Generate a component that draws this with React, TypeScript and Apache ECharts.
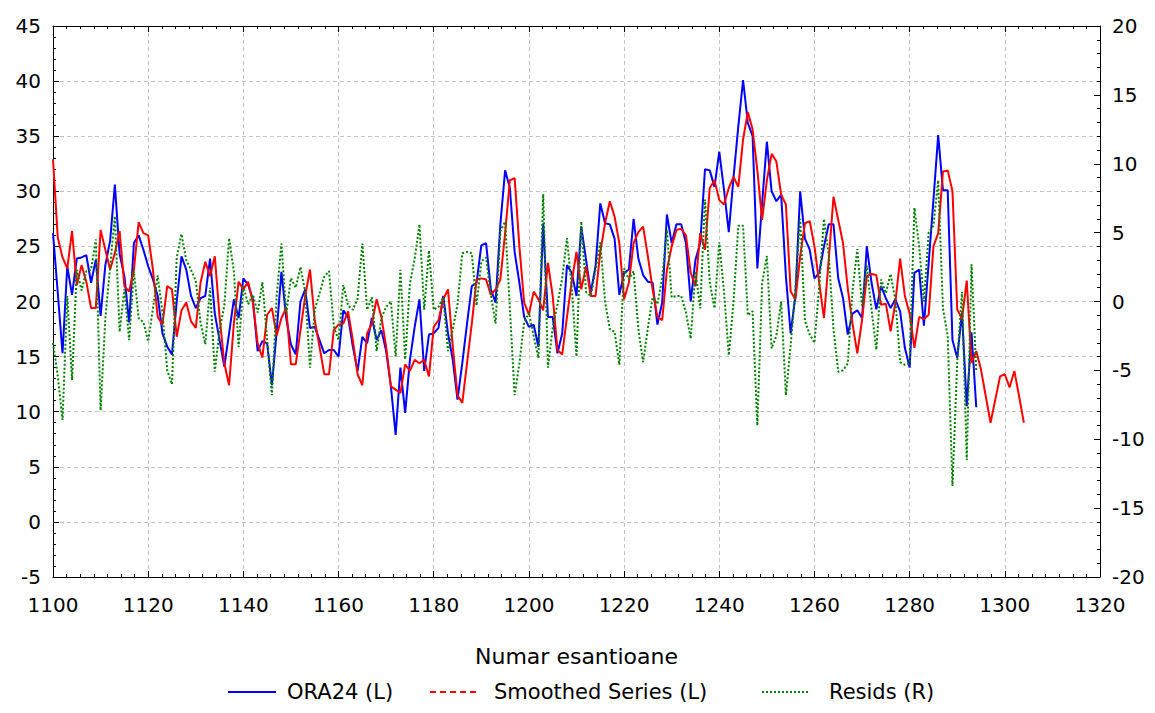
import React, { useEffect, useRef } from "react";
import * as echarts from "echarts";

const X_START = 1100;

const ora24 = [
  26.2, 20.8, 15.3, 23.2, 20.6, 23.9, 24.0, 24.2, 21.7, 23.8,
  18.7, 23.3, 25.5, 30.6, 24.3, 22.3, 18.1, 25.3, 26.0, 24.7,
  23.2, 22.0, 20.5, 17.1, 15.9, 15.2, 20.0, 24.1, 22.9, 20.5,
  19.4, 20.3, 20.5, 23.9, 18.9, 16.5, 14.1, 17.1, 20.2, 18.5,
  22.1, 21.5, 20.2, 15.5, 16.4, 16.2, 12.4, 17.3, 22.7, 18.5,
  16.1, 15.2, 20.0, 21.1, 17.6, 17.7, 16.5, 15.3, 15.6, 15.6,
  15.0, 19.2, 18.6, 15.9, 13.7, 16.8, 16.2, 18.5, 16.5, 17.4,
  15.5, 12.3, 7.9, 14.0, 9.9, 14.7, 17.7, 20.2, 13.7, 17.0,
  17.1, 17.6, 20.5, 17.1, 14.7, 11.1, 14.4, 18.0, 21.4, 21.7,
  25.1, 25.3, 21.1, 19.9, 27.0, 31.9, 30.3, 24.5, 21.7, 18.6,
  17.7, 17.9, 15.9, 27.1, 18.6, 18.6, 15.3, 17.1, 23.3, 22.6,
  20.5, 26.8, 23.8, 20.8, 23.2, 28.9, 27.1, 27.0, 25.7, 20.6,
  22.6, 22.9, 27.5, 23.9, 22.4, 21.8, 21.7, 17.9, 19.9, 27.9,
  25.3, 27.0, 27.0, 25.3, 20.0, 23.8, 25.3, 32.0, 31.9, 30.4,
  33.6, 30.1, 26.3, 31.3, 35.9, 40.1, 36.2, 35.0, 23.0, 28.9,
  34.5, 30.0, 29.1, 29.7, 22.3, 17.1, 20.5, 30.0, 25.7, 24.7,
  22.1, 22.6, 25.0, 27.0, 27.0, 22.1, 20.3, 17.0, 18.9, 19.2,
  18.5, 25.0, 21.7, 19.3, 21.4, 20.3, 19.4, 20.2, 19.1, 15.8,
  14.0, 22.6, 22.9, 17.8, 23.5, 29.2, 35.1, 30.1, 30.1, 16.5,
  14.9, 19.0, 10.5, 17.2, 10.4,
];

const smoothed = [
  32.9, 25.8, 24.0, 23.0, 26.4, 21.5, 23.3, 21.8, 19.4, 19.4,
  26.5, 24.7, 22.9, 24.4, 26.4, 21.4, 20.9, 22.9, 27.2, 26.2,
  26.0, 22.9, 18.6, 17.9, 21.4, 21.1, 16.8, 19.2, 19.9, 18.2,
  17.6, 21.7, 23.6, 22.3, 24.1, 18.6, 14.4, 12.4, 18.0, 21.8,
  21.1, 21.8, 19.9, 16.2, 14.9, 18.8, 19.4, 16.9, 18.5, 19.4,
  14.3, 14.3, 17.4, 20.5, 22.9, 18.3, 15.9, 13.4, 13.4, 17.4,
  17.9, 18.0, 19.1, 16.5, 13.4, 12.4, 17.1, 18.0, 20.2, 18.6,
  15.9, 12.3, 12.0, 11.7, 14.3, 13.7, 14.7, 14.4, 14.7, 13.2,
  17.7, 18.3, 20.2, 21.1, 15.9, 11.5, 10.8, 14.4, 18.0, 22.0,
  22.1, 22.0, 20.6, 21.1, 22.0, 26.2, 31.0, 31.2, 25.0, 19.9,
  18.8, 20.9, 20.2, 19.2, 23.5, 20.5, 15.6, 15.2, 18.6, 21.8,
  24.5, 21.1, 23.2, 20.5, 20.5, 24.5, 27.1, 29.1, 27.7, 25.3,
  20.2, 21.7, 25.3, 26.3, 26.8, 24.1, 21.1, 18.6, 18.3, 22.9,
  25.0, 26.5, 26.6, 26.0, 22.6, 21.4, 26.2, 24.7, 30.3, 31.0,
  29.2, 28.8, 30.3, 31.3, 30.4, 34.7, 37.2, 35.6, 31.9, 27.4,
  31.0, 33.4, 32.7, 29.7, 28.8, 20.9, 20.2, 24.1, 27.1, 27.3,
  25.0, 21.7, 18.5, 23.8, 29.5, 27.4, 25.3, 21.2, 18.0, 15.3,
  18.3, 22.3, 22.5, 22.4, 19.7, 19.8, 17.3, 19.9, 23.9, 20.5,
  18.9, 15.8, 18.6, 18.4, 18.8, 25.0, 26.2, 31.8, 31.9, 30.0,
  19.3, 18.4, 21.9, 14.4, 15.5, 13.8, 11.4, 9.0, 11.1, 13.2,
  13.4, 12.2, 13.7, 11.4, 9.0,
];

const resids = [
  -3.0, -5.4, -8.6, 0.4, -5.7, 2.3, 0.8, 2.2, 2.3, 4.5,
  -7.9, -1.2, 2.5, 6.2, -2.2, 0.9, -2.8, 2.2, -1.2, -1.5,
  -2.9, -0.5, 1.9, -0.8, -5.0, -6.0, 3.2, 4.9, 3.0, 2.3,
  1.5, -1.5, -3.1, 1.0, -5.1, -2.1, -0.3, 4.6, 2.2, -3.3,
  1.1, -0.2, 0.5, -0.8, 1.4, -2.8, -6.8, 0.4, 4.2, -0.9,
  1.7, 1.0, 2.5, 0.7, -4.8, -0.6, 0.6, 1.8, 2.2, -1.8,
  -2.8, 1.2, -0.3, -0.6, 0.2, 4.2, -0.6, 0.3, -3.6, -1.2,
  -0.4, 0.0, -4.0, 2.3, -4.2, 1.3, 3.1, 5.6, -0.6, 3.7,
  -0.6, -0.4, 0.3, -3.6, -2.0, -0.2, 3.5, 3.6, 3.5, -0.3,
  2.9, 3.2, 0.5, -1.6, 5.1, 5.8, -0.5, -6.8, -4.5, -1.5,
  -0.8, -2.5, -4.1, 7.8, -4.8, -1.9, -0.2, 1.7, 4.6, 1.0,
  -4.0, 5.8, 0.7, 0.4, 2.3, 4.3, 0.0, -2.0, -2.2, -4.6,
  2.4, 1.6, 2.2, -2.0, -4.4, -1.9, 0.3, -0.2, 1.7, 5.2,
  0.3, 0.4, 0.4, -0.8, -2.7, 2.2, -0.5, 7.4, 1.4, -0.5,
  4.3, 0.7, -3.9, 0.0, 5.5, 5.5, -1.0, -0.7, -9.0, 1.3,
  3.3, -3.4, -2.5, 0.0, -6.8, -3.2, 1.0, 6.0, -1.4, -2.4,
  -3.0, 1.1, 6.0, 3.4, -2.0, -5.1, -5.0, -4.5, 0.8, 3.8,
  -0.3, 2.6, -0.6, -3.5, 1.6, 0.6, 2.0, 0.1, -4.4, -4.6,
  -4.5, 6.8, 4.0, 0.0, 5.0, 5.5, 8.8, -0.5, -2.5, -13.4,
  -4.4, 0.7, -11.5, 2.7, -5.0,
];

const seriesNames = ["ORA24 (L)", "Smoothed Series (L)", "Resids (R)"];
const axisTitle = "Numar esantioane";

const FONT = "'DejaVu Sans', 'Liberation Sans', Arial, sans-serif";

const toPairs = (arr: number[]) => arr.map((v, i) => [X_START + i, v]);

export default function App() {
  const ref = useRef<HTMLDivElement>(null);

  useEffect(() => {
    if (!ref.current) return;
    const chart = echarts.init(ref.current, undefined, { renderer: "svg" });

    const gridLine = { show: true, lineStyle: { color: "#c4c4c4", type: [4, 3] as any, width: 1 } };
    const black = { color: "#000", width: 1 };

    const legendY = 692;
    const legendItems = [
      { x: 228, textX: 287, color: "#0000ff", dash: null as any, name: seriesNames[0] },
      { x: 430, textX: 494, color: "#ff0000", dash: [6, 4], name: seriesNames[1] },
      { x: 762, textX: 829, color: "#008000", dash: [2, 2], name: seriesNames[2] },
    ];
    const graphics: any[] = [];
    legendItems.forEach((it) => {
      graphics.push({
        type: "line",
        shape: { x1: it.x, y1: legendY, x2: it.x + 48, y2: legendY },
        style: { stroke: it.color, lineWidth: 2, lineDash: it.dash || undefined },
      });
      graphics.push({
        type: "text",
        x: it.textX,
        y: legendY,
        style: {
          text: it.name,
          fill: "#000",
          font: `21px ${FONT}`,
          verticalAlign: "middle",
          align: "left",
        },
      });
    });

    chart.setOption({
      animation: false,
      backgroundColor: "#fff",
      textStyle: { fontFamily: FONT },
      grid: { left: 53, right: 55, top: 26, bottom: 136, containLabel: false },
      xAxis: [
        {
          type: "value",
          min: 1100,
          max: 1320,
          interval: 20,
          position: "bottom",
          name: axisTitle,
          nameLocation: "middle",
          nameGap: 68,
          nameTextStyle: { fontSize: 22, color: "#000", fontFamily: FONT },
          axisLine: { show: true, onZero: false, lineStyle: black },
          axisTick: { show: true, inside: true, length: 6, lineStyle: black },
          minorTick: { show: true, splitNumber: 7, length: 3, lineStyle: black },
          axisLabel: {
            fontSize: 20,
            color: "#000",
            margin: 18,
            fontFamily: FONT,
            formatter: (v: number) => String(v),
          },
          splitLine: gridLine,
        },
        {
          type: "value",
          min: 1100,
          max: 1320,
          interval: 20,
          position: "top",
          axisLine: { show: true, onZero: false, lineStyle: black },
          axisTick: { show: true, inside: true, length: 6, lineStyle: black },
          minorTick: { show: true, splitNumber: 7, length: 3, lineStyle: black },
          axisLabel: { show: false },
          splitLine: { show: false },
        },
      ],
      yAxis: [
        {
          type: "value",
          min: -5,
          max: 45,
          interval: 5,
          position: "left",
          axisLine: { show: true, onZero: false, lineStyle: black },
          axisTick: { show: true, inside: true, length: 6, lineStyle: black },
          minorTick: { show: true, splitNumber: 5, length: 3, lineStyle: black },
          axisLabel: { fontSize: 20, color: "#000", margin: 12, fontFamily: FONT },
          splitLine: gridLine,
        },
        {
          type: "value",
          min: -20,
          max: 20,
          interval: 5,
          position: "right",
          axisLine: { show: true, onZero: false, lineStyle: black },
          axisTick: { show: true, inside: true, length: 6, lineStyle: black },
          minorTick: { show: true, splitNumber: 5, length: 3, lineStyle: black },
          axisLabel: { fontSize: 20, color: "#000", margin: 12, fontFamily: FONT },
          splitLine: { show: false },
        },
      ],
      series: [
        {
          name: seriesNames[0],
          type: "line",
          xAxisIndex: 0,
          yAxisIndex: 0,
          data: toPairs(ora24),
          symbol: "none",
          lineStyle: { color: "#0000ff", width: 2 },
          itemStyle: { color: "#0000ff" },
        },
        {
          name: seriesNames[1],
          type: "line",
          xAxisIndex: 0,
          yAxisIndex: 0,
          data: toPairs(smoothed),
          symbol: "none",
          lineStyle: { color: "#ff0000", width: 2 },
          itemStyle: { color: "#ff0000" },
        },
        {
          name: seriesNames[2],
          type: "line",
          xAxisIndex: 0,
          yAxisIndex: 1,
          data: toPairs(resids),
          symbol: "none",
          lineStyle: { color: "#008000", width: 2, type: [2, 2] as any },
          itemStyle: { color: "#008000" },
        },
      ],
      graphic: graphics,
    });

    return () => chart.dispose();
  }, []);

  return (
    <div
      ref={ref}
      style={{ position: "fixed", left: 0, top: 0, width: 1155, height: 713, background: "#fff" }}
    />
  );
}
